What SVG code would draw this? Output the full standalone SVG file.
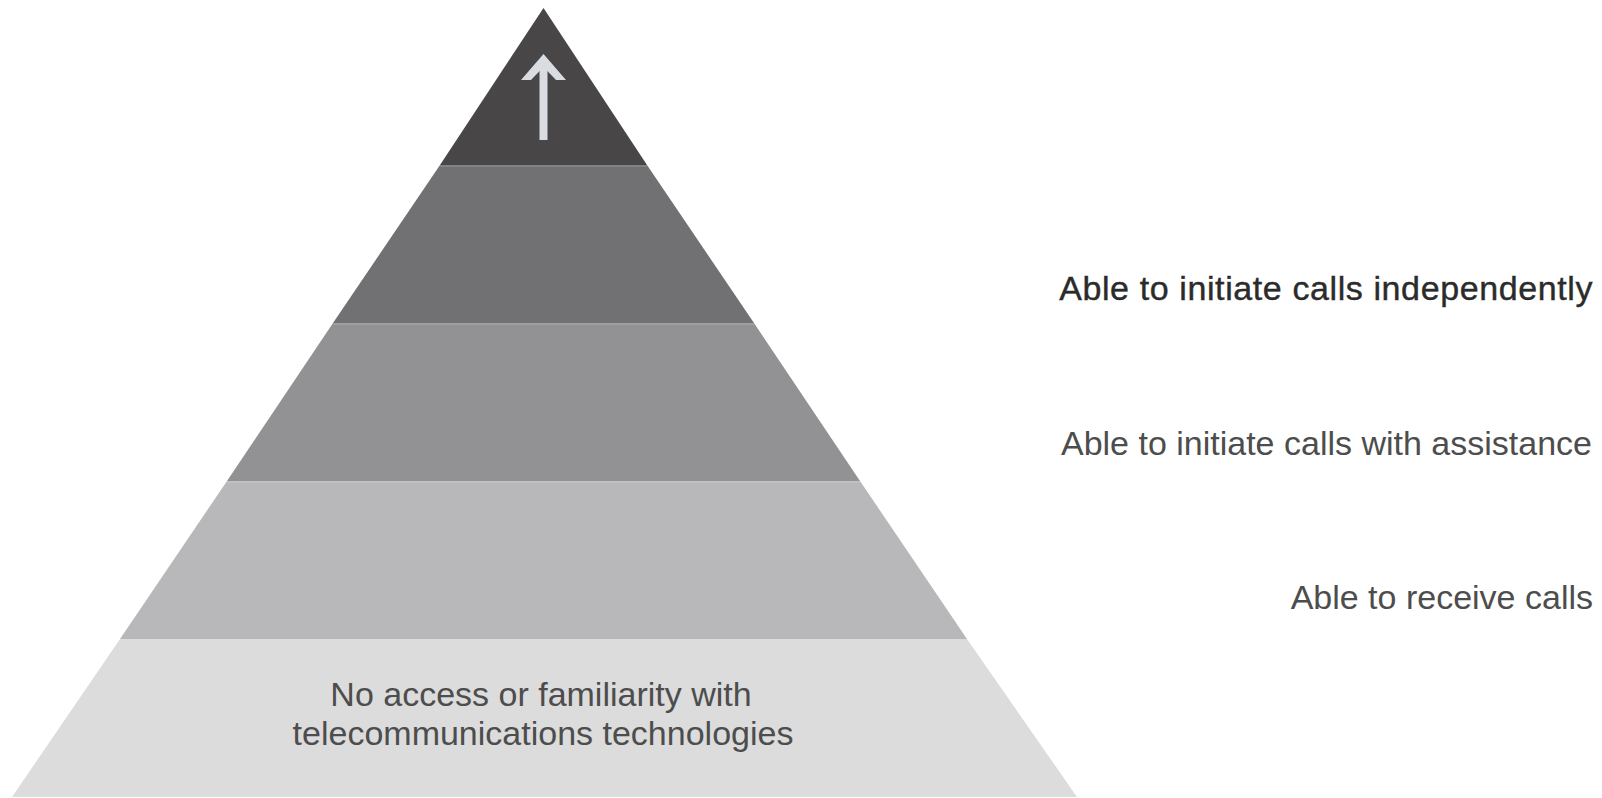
<svg xmlns="http://www.w3.org/2000/svg" width="1602" height="798" viewBox="0 0 1602 798">
<style>
.lbl{font-family:"Liberation Sans",Arial,sans-serif;font-size:34px;fill:#4d4d4d}
.strong{fill:#2b2b2b;stroke:#2b2b2b;stroke-width:0.4;letter-spacing:0.6px}
.sep{stroke:#ffffff;stroke-opacity:0.12;stroke-width:2}
</style>
<rect width="1602" height="798" fill="#ffffff"/>
<g id="level5">
<polygon points="543.5,8 440,165 647,165" fill="#484647"/>
</g>
<g id="level4">
<polygon points="440,165 647,165 754,323 333,323" fill="#717073"/>
<line class="sep" x1="440" y1="166" x2="647" y2="166"/>
</g>
<g id="level3">
<polygon points="333,323 754,323 860,481 227,481" fill="#929294"/>
<line class="sep" x1="333" y1="324" x2="754" y2="324"/>
</g>
<g id="level2">
<polygon points="227,481 860,481 967,639 120,639" fill="#b8b8ba"/>
<line class="sep" x1="227" y1="482" x2="860" y2="482"/>
</g>
<g id="level1">
<polygon points="120,639 967,639 1077,797 12,797" fill="#dcdcdc"/>
<text class="lbl" x="541" y="706" text-anchor="middle">No access or familiarity with</text>
<text class="lbl" x="543" y="745" text-anchor="middle">telecommunications technologies</text>
</g>
<g id="connectors">
<line x1="543.5" y1="64" x2="543.5" y2="140" stroke="#d9dde2" stroke-width="8"/>
<polygon points="543.5,54 566,80 556,80 543.5,67 531,80 521,80" fill="#d9dde2"/>
</g>
<g id="labels">
<text class="lbl strong" x="1593" y="300" text-anchor="end">Able to initiate calls independently</text>
<text class="lbl" x="1592" y="455" text-anchor="end">Able to initiate calls with assistance</text>
<text class="lbl" x="1593" y="609" text-anchor="end">Able to receive calls</text>
</g>
</svg>
